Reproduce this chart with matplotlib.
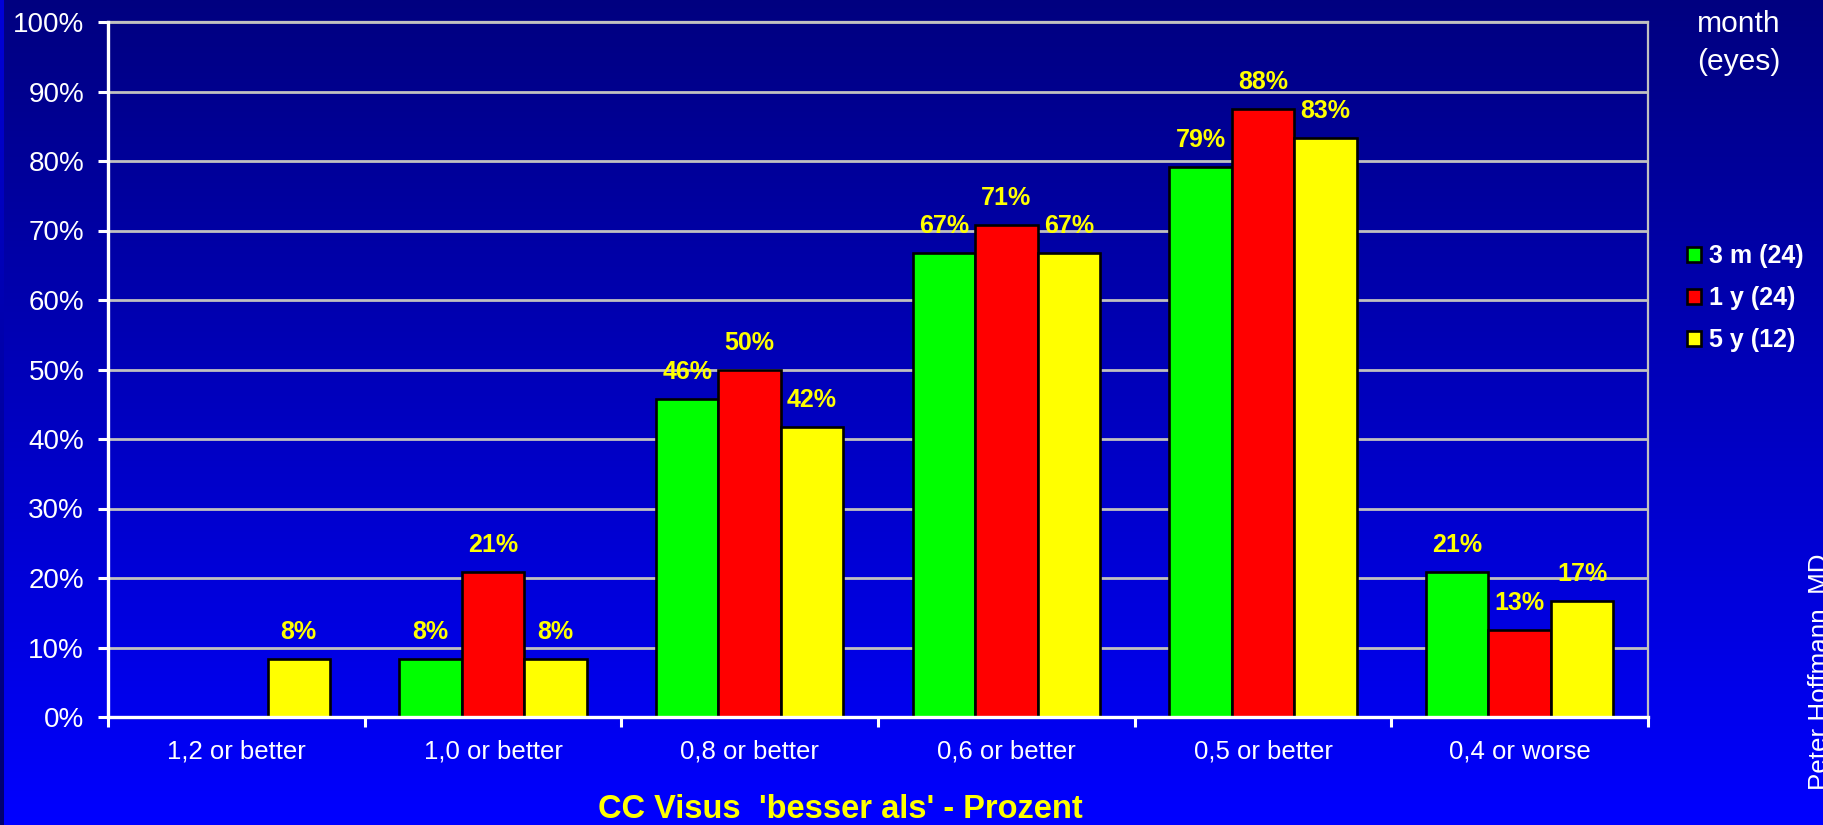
import matplotlib
matplotlib.use("Agg")
import matplotlib.pyplot as plt
from matplotlib.patches import Patch
import numpy as np

plt.rcParams['font.family'] = ['Liberation Sans', 'DejaVu Sans']

categories = ['1,2 or better', '1,0 or better', '0,8 or better',
              '0,6 or better', '0,5 or better', '0,4 or worse']
series_names = ['3 m (24)', '1 y (24)', '5 y (12)']
# percent of eyes
three_m = [0.0, 8.3, 45.8, 66.7, 79.2, 20.8]
one_y = [0.0, 20.8, 50.0, 70.8, 87.5, 12.5]
five_y = [8.3, 8.3, 41.7, 66.7, 83.3, 16.7]
colors = ['#00FF00', '#FF0000', '#FFFF00']
y_ticks = [0, 10, 20, 30, 40, 50, 60, 70, 80, 90, 100]

W, H = 1824, 825
fig = plt.figure(figsize=(W / 100, H / 100), dpi=100)

# background gradient: navy at top, bright blue at bottom
bg = fig.add_axes([0, 0, 1, 1], zorder=-10)
grad = np.linspace(128, 255, 256) / 255.0
img = np.zeros((256, 2, 3))
img[:, :, 2] = grad[:, None]
bg.imshow(img, aspect='auto', extent=[0, 1, 1, 0], interpolation='bilinear')
# thin strip on the left edge with reversed gradient
strip = np.zeros((256, 1, 3))
strip[:, 0, 2] = grad[::-1] * 0.85
bg.imshow(strip, aspect='auto', extent=[0, 4 / W, 1, 0], interpolation='bilinear')
bg.set_xlim(0, 1)
bg.set_ylim(1, 0)
bg.axis('off')

ax = fig.add_axes([108 / W, 1 - 717 / H, (1648 - 108) / W, (717 - 22) / H])
ax.set_facecolor('none')

x = np.arange(len(categories))
bw = 0.243
for i, (vals, name, c) in enumerate(zip([three_m, one_y, five_y], series_names, colors)):
    pos = x + (i - 1) * bw
    ax.bar(pos, vals, width=bw, color=c, edgecolor='black', linewidth=1.9, zorder=3)
    for px, v in zip(pos, vals):
        if v > 0:
            ax.annotate(f"{int(v + 0.5)}%", (px, v), xytext=(0, 14.4),
                        textcoords='offset points', ha='center', va='baseline',
                        color='#FFFF00', fontsize=18, fontweight='bold', zorder=4)

ax.set_xlim(-0.5, len(categories) - 0.5)
ax.set_ylim(0, 100)
ax.set_yticks(y_ticks)
ax.set_yticklabels([f"{t}%" for t in y_ticks])
ax.yaxis.grid(True, color='#C0C0C0', linewidth=2, zorder=1)
ax.set_axisbelow(True)

ax.set_xticks(np.arange(-0.5, len(categories), 1.0))
ax.set_xticklabels([])
ax.set_xticks(x, minor=True)
ax.set_xticklabels(categories, minor=True)
ax.tick_params(axis='x', which='major', direction='out', length=7.2, width=2.2,
               color='white')
ax.tick_params(axis='x', which='minor', length=0, pad=16, labelsize=18.5,
               labelcolor='white')
ax.tick_params(axis='y', direction='out', length=7.2, width=2.2, color='white',
               labelsize=20, labelcolor='white', pad=10)

for s in ['left', 'bottom']:
    ax.spines[s].set_color('white')
    ax.spines[s].set_linewidth(2.4)
    ax.spines[s].set_zorder(5)
for s in ['top', 'right']:
    ax.spines[s].set_color('#C0C0C0')
    ax.spines[s].set_linewidth(1.6)

handles = [Patch(facecolor=c, edgecolor='black', linewidth=1.9) for c in colors]
fig.legend(handles, series_names, loc='upper left',
           bbox_to_anchor=(1687 / W, 1 - 244 / H), frameon=False,
           prop={'weight': 'bold', 'size': 18}, labelcolor='white',
           handlelength=0.56, handleheight=0.56, handletextpad=0.32,
           labelspacing=0.72, borderpad=0, borderaxespad=0)

fig.text(1739 / W, 1 - 32 / H, 'month', color='white', fontsize=21.6,
         ha='center', va='baseline')
fig.text(1739 / W, 1 - 70 / H, '(eyes)', color='white', fontsize=21.6,
         ha='center', va='baseline')

fig.text(840 / W, 1 - 818 / H, "CC Visus  'besser als' - Prozent", color='#FFFF00',
         fontsize=23.5, fontweight='bold', ha='center', va='baseline')

fig.text(1808 / W, 1 - 790 / H, 'Peter Hoffmann, MD', color='white', fontsize=18.7,
         rotation=90, ha='left', va='bottom')

fig.savefig('out.png', dpi=100)
